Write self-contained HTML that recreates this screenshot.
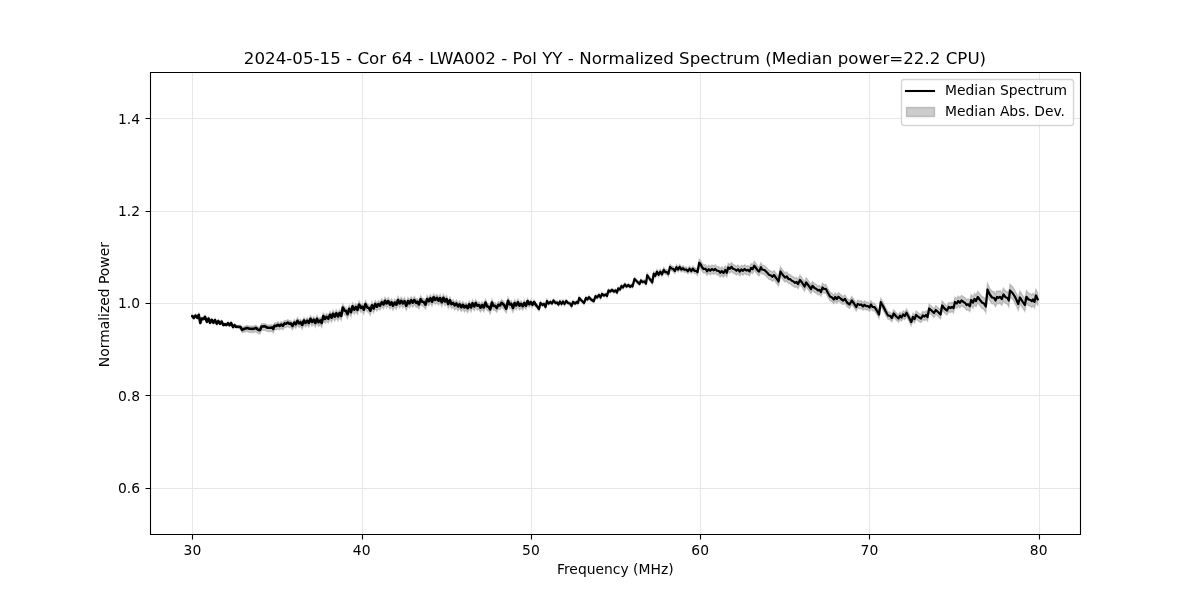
<!DOCTYPE html>
<html lang="en"><head><meta charset="utf-8"><title>Normalized Spectrum</title>
<style>html,body{margin:0;padding:0;background:#fff}body{width:1200px;height:600px;overflow:hidden}svg{display:block}text{font-family:"DejaVu Sans","Liberation Sans",sans-serif;fill:#000}.t10{font-size:13.889px}.t12{font-size:16.667px}</style></head><body>
<svg width="1200" height="600" viewBox="0 0 1200 600">
<rect width="1200" height="600" fill="#fff"/>
<defs><clipPath id="ax"><rect x="150" y="72" width="930" height="462"/></clipPath></defs>
<g clip-path="url(#ax)"><path d="M192.3 314.89 L193.75 316.78 L195.5 314.28 L197.25 316.52 L198.75 313.51 L200.25 321.76 L201.75 317.25 L203.5 317.74 L205 315.49 L206.9 320.48 L208.5 317.22 L210 321.47 L211.75 318.46 L213.5 321.45 L215 318.7 L216.75 322.44 L218.25 319.68 L220 322.43 L221.6 320.17 L223.25 323.66 L225 322.9 L226.5 323.65 L228 321.89 L229.5 323.89 L231.1 321.63 L233 325.62 L234.5 323.86 L236 325.36 L238 325.35 L240.5 325.16 L242.25 327.85 L244 326.59 L247 325.46 L249 325.99 L253.5 326.19 L255.75 325.18 L258.5 327.27 L260 327.36 L261.5 323.75 L265 323.64 L267.5 324.98 L271 324.97 L272 324.61 L273.25 326.21 L274.5 322.95 L276.5 323.09 L278 321.94 L279.5 323.18 L281.25 321.68 L282.75 323.07 L284.5 320.56 L286 320.91 L287.75 319.65 L289.25 320.89 L290.75 320.54 L292.5 323.03 L294.25 319.62 L295.75 321.37 L297.5 317.86 L299 320.6 L300.5 319.34 L302.25 322.07 L303.75 317.8 L304 317.55 L305.5 320.03 L307.25 317.75 L308.75 319.98 L310.5 315.71 L312 318.94 L313.75 316.67 L315.25 319.9 L317 315.62 L318.5 319.1 L320.25 317.33 L321.75 319.81 L323.25 312.79 L325 315.77 L326.5 313.5 L328.25 315.47 L330 311.45 L331.5 314.45 L333 310.45 L334.75 313.44 L336.25 309.94 L338 313.19 L339.5 309.69 L341.25 312.69 L342.75 304.19 L344.5 307.18 L346 307.68 L347.5 310.93 L349.25 305.43 L351 308.93 L352.5 302.93 L354.25 306.42 L355.75 303.67 L357.5 306.67 L359 301.17 L359.25 301.67 L361 304.67 L362.25 303.41 L363.75 306.41 L365.5 300.66 L367.25 304.16 L368.75 304.66 L370.25 307.41 L372 301.9 L373.6 305.15 L375.25 300.65 L376.9 303.4 L378.5 300.65 L380 302.39 L381.75 298.89 L383.5 301.14 L385 297.39 L386.6 300.14 L388.25 297.64 L390 301.38 L391.5 298.88 L393 302.38 L394.75 299.13 L396.4 301.38 L398 296.62 L399.6 300.12 L401.25 297.37 L402.9 300.12 L404.5 297.72 L406.25 302.37 L408 297.61 L409.5 300.11 L411.1 296.86 L412.75 299.36 L414.25 296.61 L416.25 299.6 L417.25 298.35 L418.9 301.1 L420.6 295.85 L422.25 298.36 L423.75 298.61 L425.5 301.37 L427.1 295.62 L428.75 297.88 L430.4 294.88 L432 298.39 L433.6 293.89 L435.25 296.65 L436.9 294.4 L438.5 297.41 L440.1 294.66 L441.75 298.92 L443.4 294.42 L445 298.18 L446.6 295.68 L448.25 300.68 L449.9 296.94 L451.5 300.94 L453.1 299.7 L454.75 302.2 L456.4 300.21 L458 303.21 L459.6 300.97 L461.25 303.97 L462.9 301.48 L464.5 304.23 L466.15 302.49 L467.75 304.99 L469.25 301 L471 304.25 L472.5 300.01 L474.25 303.26 L475.75 299.77 L477.25 302.52 L478.9 301.78 L480.5 304.53 L482.1 301.79 L483.75 304.29 L485.5 299.3 L487.1 303.05 L488.75 303.81 L490.25 306.31 L491.9 299.32 L493.5 302.82 L495 302.57 L496.75 304.83 L498.4 301.59 L500 302.34 L501.6 299.59 L504 301.85 L506.25 305.61 L508 297.61 L509.75 301.37 L511.25 300.62 L513 304.88 L514.6 299.88 L516.25 302.39 L517.9 299.14 L519.5 302.65 L521 300.75 L522.75 303.43 L524.25 300.32 L526 303.25 L527.6 298.66 L529.25 302.07 L530.75 299.94 L532.5 302.77 L534 300.1 L536 303.2 L539 307.35 L540.5 301.4 L542.5 303.4 L544 302.4 L545.5 305.41 L547 299.41 L548.5 301.91 L550.5 300.41 L552 301.91 L553.5 298.91 L555.5 301.42 L557 300.92 L558.5 302.92 L560 299.92 L561.5 302.42 L563 299.92 L564.5 302.42 L566.2 299.43 L568 301.43 L570 301.93 L571.5 304.43 L573 300.43 L575 301.94 L577 300.44 L578 301.44 L579.2 296.44 L581.5 298.94 L584 301.44 L586 296.45 L587.5 297.95 L589 295.65 L591 297.95 L593.8 299.65 L595.5 294.66 L597 295.96 L599 293.46 L600.5 295.96 L602 292.46 L604 293.96 L606 292.97 L607 294.47 L608.5 288.97 L610 289.97 L612 288.47 L614 289.97 L615.5 288.98 L617 290.98 L618.2 286.98 L620 287.98 L621.5 284.48 L623 285.98 L624.8 282.98 L626.5 284.99 L628.5 283.49 L630 285.29 L631.5 283.99 L632.5 284.99 L634.5 277.49 L637 280 L639.5 282.5 L641 278.95 L642.5 280.39 L644.5 279.8 L646 281.73 L647.25 273.42 L649.75 277.06 L652.25 280.2 L653.75 271.63 L655.25 273.56 L657 269.49 L658.6 272.41 L660.25 269.35 L662 271.84 L663.75 267.58 L665.25 269.57 L666.75 269.56 L668.4 271.55 L670 264.54 L671.75 266.03 L673.25 266.52 L674.9 268.51 L676.5 264.76 L678 267 L679.75 264.49 L681.25 266.98 L683 265.72 L684.5 267.21 L686.25 266.95 L687.9 268.69 L689.5 266.18 L691.25 268.42 L692.9 266.16 L694.5 268.15 L696 267.95 L697.5 269.15 L699.25 259.3 L701 261.2 L701.75 262.8 L703.5 264.99 L705.5 264.73 L707 267.22 L708.75 265.2 L710.25 266.69 L712 264.93 L713.5 266.17 L715.25 264.91 L717 266.65 L718.75 266.78 L720.25 268.62 L721.75 266.86 L723.5 268.85 L725.25 265.84 L726.75 268.58 L728.25 263.32 L729.9 264.56 L731.5 262.55 L733 264.54 L734.75 265.02 L736.4 266.51 L738 265 L739.75 267.34 L741.4 265.23 L743 266.47 L744.65 264.71 L746.25 266.19 L747.9 265.58 L749.5 267.07 L751.1 263.56 L752.5 264.9 L754.25 261.39 L756 263.63 L758 266.36 L759 267.21 L761 262.85 L762 265.09 L764.5 265.58 L767 268.06 L769 270.36 L771 271.05 L772.5 272.34 L774 270.53 L776.5 274.02 L778.5 277.01 L780.5 267 L782.5 269.99 L785 272.98 L786.8 271.97 L788.5 274.46 L790 274.45 L791.8 276.24 L793.5 276.93 L795 278.23 L796.5 277.42 L798 279.41 L800 275.4 L802 277.93 L804.5 281.96 L806.2 277.99 L808.5 281.02 L811 284.55 L812.5 281.38 L814.5 283.6 L816.5 284.63 L818 286.15 L819.5 285.47 L821 287.69 L822.5 283.21 L824 284.74 L825.8 284.56 L828 288.79 L830 292.32 L832 293.35 L833.8 295.37 L835.2 292.89 L836.8 294.92 L838.5 292.74 L840.5 294.47 L843 296.5 L845 295.03 L847 298.56 L849.5 300.59 L851.8 296.61 L854 299.62 L856.2 303.14 L857.8 300.15 L859.5 300.96 L861.2 300.67 L863 302.68 L864.5 300.99 L866.2 302.4 L867.8 302.21 L869.5 303.72 L871 300.73 L872.5 303.04 L874.5 303.45 L876.5 306.26 L879 310.77 L880.8 298.48 L883 302.3 L885.5 307.31 L888 311.83 L890 312.14 L891.8 314.35 L893.8 309.86 L896 312.58 L898.5 314.89 L900 312.2 L901.5 313.87 L903.2 310.84 L904.8 312.3 L906.5 309.07 L909 313.72 L911.2 318.18 L913 313.14 L914.5 315.11 L916.2 311.08 L918.5 313.03 L921 314.48 L922.8 311.44 L924.5 312.41 L926 310.88 L927.5 312.85 L929.2 304.32 L931.5 306.27 L934 308.72 L935.8 305.68 L938 307.64 L940.5 310.09 L942.2 301.06 L944.5 304.01 L947 305.96 L948.8 302.42 L950.5 303.38 L952 302.12 L953.5 303.46 L955 297.2 L956.8 298.63 L958.2 296.07 L959.8 297.81 L961.5 295.44 L963.5 296.86 L965.2 297.79 L966.5 299.74 L968 298.88 L969.8 300.81 L971.2 294.55 L973 296.98 L974.5 293.42 L976 295.36 L977.8 291.29 L980 294.2 L982 296.62 L984 297.54 L985.8 300.47 L987.5 283.4 L989.5 287.82 L992 291.3 L994 291.6 L995.5 294.3 L997 290.8 L998.5 291.6 L1000.2 290.6 L1001.8 292.8 L1003.5 288.3 L1005.5 291 L1007.5 291.8 L1008.8 294.3 L1010 284.3 L1012.5 286.8 L1014.5 289.8 L1016.5 293.8 L1018.2 297.8 L1020 291.3 L1022.5 295.3 L1024.8 298.8 L1026.5 290.6 L1028.5 293.3 L1030.5 293.8 L1031.8 295 L1033 293.3 L1034.5 295.6 L1036 289.3 L1037.8 293.3 L1037.8 305.7 L1036 301.7 L1034.5 308 L1033 305.7 L1031.8 307.4 L1030.5 306.2 L1028.5 305.7 L1026.5 303 L1024.8 311.2 L1022.5 307.7 L1020 303.7 L1018.2 310.2 L1016.5 306.2 L1014.5 302.2 L1012.5 299.2 L1010 296.7 L1008.8 306.7 L1007.5 304.2 L1005.5 303.4 L1003.5 300.7 L1001.8 305.2 L1000.2 303 L998.5 304 L997 303.2 L995.5 306.7 L994 304 L992 303.7 L989.5 300.18 L987.5 295.6 L985.8 312.53 L984 309.46 L982 308.38 L980 305.8 L977.8 302.71 L976 306.64 L974.5 304.58 L973 308.02 L971.2 305.45 L969.8 311.59 L968 309.52 L966.5 310.26 L965.2 308.21 L963.5 307.14 L961.5 305.56 L959.8 307.79 L958.2 305.93 L956.8 308.37 L955 306.8 L953.5 312.94 L952 311.48 L950.5 312.62 L948.8 311.58 L947 315.04 L944.5 312.99 L942.2 309.94 L940.5 318.91 L938 316.36 L935.8 314.32 L934 317.28 L931.5 314.73 L929.2 312.68 L927.5 321.15 L926 319.12 L924.5 320.59 L922.8 319.56 L921 322.52 L918.5 320.97 L916.2 318.92 L914.5 322.89 L913 320.86 L911.2 325.82 L909 321.28 L906.5 316.53 L904.8 319.7 L903.2 318.16 L901.5 321.13 L900 319.4 L898.5 322.11 L896 319.82 L893.8 317.14 L891.8 321.65 L890 319.46 L888 319.17 L885.5 314.69 L883 309.7 L880.8 305.92 L879 318.23 L876.5 313.74 L874.5 310.95 L872.5 310.56 L871 308.27 L869.5 311.28 L867.8 309.79 L866.2 310 L864.5 308.61 L863 310.32 L861.2 308.33 L859.5 308.64 L857.8 307.85 L856.2 310.86 L854 307.38 L851.8 304.39 L849.5 308.41 L847 306.44 L845 302.97 L843 304.5 L840.5 302.53 L838.5 300.86 L836.8 303.08 L835.2 301.11 L833.8 303.63 L832 301.65 L830 300.68 L828 297.21 L825.8 293.04 L824 293.26 L822.5 291.79 L821 296.31 L819.5 294.13 L818 294.85 L816.5 293.37 L814.5 292.4 L812.5 290.23 L811 293.45 L808.5 289.98 L806.2 287.01 L804.5 291.04 L802 287.07 L800 284.6 L798 288.59 L796.5 286.58 L795 287.38 L793.5 286.07 L791.8 285.36 L790 283.55 L788.5 283.54 L786.8 281.03 L785 282.02 L782.5 279.01 L780.5 276 L778.5 285.99 L776.5 282.98 L774 279.47 L772.5 281.26 L771 279.95 L769 279.25 L767 276.94 L764.5 274.42 L762 273.91 L761 271.65 L759 275.99 L758 275.14 L756 272.37 L754.25 270.11 L752.5 273.6 L751.1 272.24 L749.5 275.73 L747.9 274.22 L746.25 274.81 L744.65 273.29 L743 275.03 L741.4 273.77 L739.75 275.86 L738 273.5 L736.4 274.99 L734.75 273.48 L733 272.96 L731.5 270.95 L729.9 272.94 L728.25 271.68 L726.75 276.92 L725.25 274.16 L723.5 277.15 L721.75 275.14 L720.25 276.88 L718.75 275.02 L717 274.85 L715.25 273.09 L713.5 274.33 L712 273.07 L710.25 274.81 L708.75 273.3 L707 275.28 L705.5 272.77 L703.5 273.01 L701.75 270.7 L701 268.8 L699.25 266.2 L697.5 275.35 L696 273.55 L694.5 273.35 L692.9 271.34 L691.25 273.58 L689.5 271.32 L687.9 273.81 L686.25 272.05 L684.5 272.29 L683 270.78 L681.25 272.02 L679.75 269.51 L678 272 L676.5 269.74 L674.9 273.49 L673.25 271.48 L671.75 270.97 L670 269.46 L668.4 276.45 L666.75 274.44 L665.25 274.43 L663.75 272.42 L662 276.66 L660.25 274.15 L658.6 277.09 L657 274.01 L655.25 277.94 L653.75 275.87 L652.25 284.3 L649.75 280.94 L647.25 277.08 L646 285.27 L644.5 283.2 L642.5 283.61 L641 282.05 L639.5 285.5 L637 283 L634.5 280.51 L632.5 288.01 L631.5 287.01 L630 288.31 L628.5 286.51 L626.5 288.01 L624.8 286.02 L623 289.02 L621.5 287.52 L620 291.02 L618.2 290.02 L617 294.02 L615.5 292.02 L614 293.03 L612 291.53 L610 293.03 L608.5 292.03 L607 297.53 L606 296.03 L604 297.04 L602 295.54 L600.5 299.04 L599 296.54 L597 299.04 L595.5 297.74 L593.8 302.75 L591 301.05 L589 298.75 L587.5 301.05 L586 299.55 L584 304.56 L581.5 302.06 L579.2 299.56 L578 304.56 L577 303.56 L575 305.06 L573 303.57 L571.5 307.57 L570 305.07 L568 304.57 L566.2 302.57 L564.5 305.58 L563 303.08 L561.5 305.58 L560 303.08 L558.5 306.08 L557 304.08 L555.5 304.58 L553.5 302.09 L552 305.09 L550.5 303.59 L548.5 305.09 L547 302.59 L545.5 308.59 L544 305.6 L542.5 306.6 L540.5 304.6 L539 310.75 L536 307.2 L534 304.5 L532.5 307.48 L530.75 304.99 L529.25 307.43 L527.6 304.34 L526 309.25 L524.25 306.68 L522.75 310.07 L521 307.75 L519.5 309.85 L517.9 306.36 L516.25 309.61 L514.6 307.12 L513 312.12 L511.25 307.88 L509.75 308.63 L508 304.89 L506.25 312.89 L504 309.15 L501.6 306.91 L500 309.66 L498.4 308.91 L496.75 312.17 L495 309.93 L493.5 310.18 L491.9 306.68 L490.25 313.69 L488.75 311.19 L487.1 310.45 L485.5 306.7 L483.75 311.71 L482.1 309.21 L480.5 311.97 L478.9 309.22 L477.25 309.98 L475.75 307.23 L474.25 310.74 L472.5 307.49 L471 311.75 L469.25 308.5 L467.75 312.51 L466.15 310.01 L464.5 311.77 L462.9 309.02 L461.25 311.53 L459.6 308.53 L458 310.79 L456.4 307.79 L454.75 309.8 L453.1 307.3 L451.5 308.56 L449.9 304.56 L448.25 308.32 L446.6 303.32 L445 305.82 L443.4 302.08 L441.75 306.58 L440.1 302.34 L438.5 305.09 L436.9 302.1 L435.25 304.35 L433.6 301.61 L432 306.11 L430.4 302.62 L428.75 305.62 L427.1 303.38 L425.5 309.13 L423.75 306.39 L422.25 306.14 L420.6 303.65 L418.9 308.9 L417.25 306.15 L416.25 307.4 L414.25 304.39 L412.75 307.14 L411.1 304.64 L409.5 307.89 L408 305.39 L406.25 310.13 L404.5 305.48 L402.9 307.88 L401.25 305.13 L399.6 307.88 L398 304.38 L396.4 309.12 L394.75 306.87 L393 310.12 L391.5 306.62 L390 309.12 L388.25 305.36 L386.6 307.86 L385 305.11 L383.5 308.86 L381.75 306.61 L380 310.11 L378.5 308.35 L376.9 311.1 L375.25 308.35 L373.6 312.85 L372 309.6 L370.25 315.09 L368.75 312.34 L367.25 311.84 L365.5 308.34 L363.75 314.09 L362.25 311.09 L361 312.33 L359.25 309.33 L359 308.83 L357.5 314.33 L355.75 311.33 L354.25 314.08 L352.5 310.57 L351 316.57 L349.25 313.07 L347.5 318.57 L346 315.32 L344.5 314.82 L342.75 311.81 L341.25 320.31 L339.5 317.31 L338 320.81 L336.25 317.56 L334.75 321.06 L333 318.05 L331.5 322.05 L330 319.05 L328.25 323.03 L326.5 321 L325 323.23 L323.25 320.21 L321.75 327.19 L320.25 324.67 L318.5 326.4 L317 322.88 L315.25 327.1 L313.75 323.83 L312 326.06 L310.5 322.79 L308.75 327.02 L307.25 324.75 L305.5 326.97 L304 324.45 L303.75 324.7 L302.25 328.93 L300.5 326.16 L299 327.4 L297.5 324.64 L295.75 328.13 L294.25 326.38 L292.5 329.77 L290.75 327.26 L289.25 327.61 L287.75 326.35 L286 327.59 L284.5 327.24 L282.75 329.73 L281.25 328.32 L279.5 329.82 L278 328.56 L276.5 329.71 L274.5 329.55 L273.25 332.79 L272 331.19 L271 331.53 L267.5 331.52 L265 330.16 L261.5 330.25 L260 333.84 L258.5 333.73 L255.75 331.62 L253.5 332.61 L249 332.21 L247 331.34 L244 331.96 L242.25 332.69 L240.5 329.16 L238 328.15 L236 328.14 L234.5 326.64 L233 328.38 L231.1 324.37 L229.5 326.61 L228 324.61 L226.5 326.35 L225 325.6 L223.25 326.34 L221.6 322.83 L220 325.07 L218.25 322.32 L216.75 325.06 L215 321.3 L213.5 324.05 L211.75 321.04 L210 324.03 L208.5 319.78 L206.9 323.02 L205 318.01 L203.5 320.26 L201.75 319.75 L200.25 324.24 L198.75 315.99 L197.25 318.98 L195.5 316.72 L193.75 319.22 L192.3 317.31Z" fill="#808080" fill-opacity="0.4" stroke="#808080" stroke-opacity="0.4" stroke-width="1.389" stroke-linejoin="miter"/></g>
<path d="M192.5 72V534M362.5 72V534M531.5 72V534M700.5 72V534M869.5 72V534M1039.5 72V534M150 118.5H1080M150 211.5H1080M150 303.5H1080M150 395.5H1080M150 488.5H1080" stroke="#b0b0b0" stroke-opacity="0.3" stroke-width="1.111" fill="none"/>
<path d="M191.94 534.5h1.111v5h-1.111zM361.94 534.5h1.111v5h-1.111zM530.94 534.5h1.111v5h-1.111zM699.94 534.5h1.111v5h-1.111zM868.94 534.5h1.111v5h-1.111zM1038.94 534.5h1.111v5h-1.111zM145.5 117.94h5v1.111h-5zM145.5 210.94h5v1.111h-5zM145.5 302.94h5v1.111h-5zM145.5 394.94h5v1.111h-5zM145.5 487.94h5v1.111h-5z" fill="#000"/>
<g clip-path="url(#ax)" fill="none" stroke="#000" stroke-linejoin="round"><path d="M192.3 316.1 L193.75 318 L195.5 315.5 L197.25 317.75 L198.75 314.75 L200.25 323 L201.75 318.5 L203.5 319 L205 316.75 L206.9 321.75 L208.5 318.5 L210 322.75 L211.75 319.75 L213.5 322.75 L215 320 L216.75 323.75 L218.25 321 L220 323.75 L221.6 321.5 L223.25 325 L225 324.25 L226.5 325 L228 323.25 L229.5 325.25 L231.1 323 L233 327 L234.5 325.25 L236 326.75 L238 326.75 L240.5 327 L242.25 330 L244 328.9 L247 327.9 L249 328.6 L253.5 328.9 L255.75 327.9 L258.5 330 L260 330.1 L261.5 326.5 L265 326.4 L267.5 327.75 L271 327.75 L272 327.4 L273.25 329 L274.5 325.75 L276.5 325.9 L278 324.75 L279.5 326 L281.25 324.5 L282.75 325.9 L284.5 323.4 L286 323.75 L287.75 322.5 L289.25 323.75 L290.75 323.4 L292.5 325.9 L294.25 322.5 L295.75 324.25 L297.5 320.75 L299 323.5 L300.5 322.25 L302.25 325 L303.75 320.75 L304 320.5 L305.5 323 L307.25 320.75 L308.75 323 L310.5 318.75 L312 322 L313.75 319.75 L315.25 323 L317 318.75 L318.5 322.25 L320.25 320.5 L321.75 323 L323.25 316 L325 319 L326.5 316.75 L328.25 318.75 L330 314.75 L331.5 317.75 L333 313.75 L334.75 316.75 L336.25 313.25 L338 316.5 L339.5 313 L341.25 316 L342.75 307.5 L344.5 310.5 L346 311 L347.5 314.25 L349.25 308.75 L351 312.25 L352.5 306.25 L354.25 309.75 L355.75 307 L357.5 310 L359 304.5 L359.25 305 L361 308 L362.25 306.75 L363.75 309.75 L365.5 304 L367.25 307.5 L368.75 308 L370.25 310.75 L372 305.25 L373.6 308.5 L375.25 304 L376.9 306.75 L378.5 304 L380 305.75 L381.75 302.25 L383.5 304.5 L385 300.75 L386.6 303.5 L388.25 301 L390 304.75 L391.5 302.25 L393 305.75 L394.75 302.5 L396.4 304.75 L398 300 L399.6 303.5 L401.25 300.75 L402.9 303.5 L404.5 301.1 L406.25 305.75 L408 301 L409.5 303.5 L411.1 300.25 L412.75 302.75 L414.25 300 L416.25 303 L417.25 301.75 L418.9 304.5 L420.6 299.25 L422.25 301.75 L423.75 302 L425.5 304.75 L427.1 299 L428.75 301.25 L430.4 298.25 L432 301.75 L433.6 297.25 L435.25 300 L436.9 297.75 L438.5 300.75 L440.1 298 L441.75 302.25 L443.4 297.75 L445 301.5 L446.6 299 L448.25 304 L449.9 300.25 L451.5 304.25 L453.1 303 L454.75 305.5 L456.4 303.5 L458 306.5 L459.6 304.25 L461.25 307.25 L462.9 304.75 L464.5 307.5 L466.15 305.75 L467.75 308.25 L469.25 304.25 L471 307.5 L472.5 303.25 L474.25 306.5 L475.75 303 L477.25 305.75 L478.9 305 L480.5 307.75 L482.1 305 L483.75 307.5 L485.5 302.5 L487.1 306.25 L488.75 307 L490.25 309.5 L491.9 302.5 L493.5 306 L495 305.75 L496.75 308 L498.4 304.75 L500 305.5 L501.6 302.75 L504 305 L506.25 308.75 L508 300.75 L509.75 304.5 L511.25 303.75 L513 308 L514.6 303 L516.25 305.5 L517.9 302.25 L519.5 305.75 L521 303.75 L522.75 306.25 L524.25 303 L526 305.75 L527.6 301 L529.25 304.25 L530.75 302 L532.5 304.75 L534 302 L536 305" stroke-width="2.6" stroke-linecap="round"/><path d="M536 305 L539 309 L540.5 303 L542.5 305 L544 304 L545.5 307 L547 301 L548.5 303.5 L550.5 302 L552 303.5 L553.5 300.5 L555.5 303 L557 302.5 L558.5 304.5 L560 301.5 L561.5 304 L563 301.5 L564.5 304 L566.2 301 L568 303 L570 303.5 L571.5 306 L573 302 L575 303.5 L577 302 L578 303 L579.2 298 L581.5 300.5 L584 303 L586 298 L587.5 299.5 L589 297.2 L591 299.5 L593.8 301.2 L595.5 296.2 L597 297.5 L599 295 L600.5 297.5 L602 294 L604 295.5 L606 294.5 L607 296 L608.5 290.5 L610 291.5 L612 290 L614 291.5 L615.5 290.5 L617 292.5 L618.2 288.5 L620 289.5 L621.5 286 L623 287.5 L624.8 284.5 L626.5 286.5 L628.5 285 L630 286.8 L631.5 285.5 L632.5 286.5 L634.5 279 L637 281.5 L639.5 284 L641 280.5 L642.5 282 L644.5 281.5 L646 283.5 L647.25 275.25 L649.75 279 L652.25 282.25 L653.75 273.75 L655.25 275.75 L657 271.75 L658.6 274.75 L660.25 271.75 L662 274.25 L663.75 270 L665.25 272 L666.75 272 L668.4 274 L670 267 L671.75 268.5 L673.25 269 L674.9 271 L676.5 267.25 L678 269.5 L679.75 267 L681.25 269.5 L683 268.25 L684.5 269.75 L686.25 269.5 L687.9 271.25 L689.5 268.75 L691.25 271 L692.9 268.75 L694.5 270.75 L696 270.75 L697.5 272.25 L699.25 262.75 L701 265 L701.75 266.75 L703.5 269 L705.5 268.75 L707 271.25 L708.75 269.25 L710.25 270.75 L712 269 L713.5 270.25 L715.25 269 L717 270.75 L718.75 270.9 L720.25 272.75 L721.75 271 L723.5 273 L725.25 270 L726.75 272.75 L728.25 267.5 L729.9 268.75 L731.5 266.75 L733 268.75 L734.75 269.25 L736.4 270.75 L738 269.25 L739.75 271.6 L741.4 269.5 L743 270.75 L744.65 269 L746.25 270.5 L747.9 269.9 L749.5 271.4 L751.1 267.9 L752.5 269.25 L754.25 265.75 L756 268 L758 270.75 L759 271.6 L761 267.25 L762 269.5 L764.5 270 L767 272.5 L769 274.8 L771 275.5 L772.5 276.8 L774 275 L776.5 278.5 L778.5 281.5 L780.5 271.5 L782.5 274.5 L785 277.5 L786.8 276.5 L788.5 279 L790 279 L791.8 280.8 L793.5 281.5 L795 282.8 L796.5 282 L798 284 L800 280 L802 282.5 L804.5 286.5 L806.2 282.5 L808.5 285.5 L811 289 L812.5 285.8 L814.5 288 L816.5 289 L818 290.5 L819.5 289.8 L821 292 L822.5 287.5 L824 289 L825.8 288.8 L828 293 L830 296.5 L832 297.5 L833.8 299.5 L835.2 297 L836.8 299 L838.5 296.8 L840.5 298.5 L843 300.5 L845 299 L847 302.5 L849.5 304.5 L851.8 300.5 L854 303.5 L856.2 307 L857.8 304 L859.5 304.8 L861.2 304.5 L863 306.5 L864.5 304.8 L866.2 306.2 L867.8 306 L869.5 307.5 L871 304.5 L872.5 306.8 L874.5 307.2 L876.5 310 L879 314.5 L880.8 302.2 L883 306 L885.5 311 L888 315.5 L890 315.8 L891.8 318 L893.8 313.5 L896 316.2 L898.5 318.5 L900 315.8 L901.5 317.5 L903.2 314.5 L904.8 316 L906.5 312.8 L909 317.5 L911.2 322 L913 317 L914.5 319 L916.2 315 L918.5 317 L921 318.5 L922.8 315.5 L924.5 316.5 L926 315 L927.5 317 L929.2 308.5 L931.5 310.5 L934 313 L935.8 310 L938 312 L940.5 314.5 L942.2 305.5 L944.5 308.5 L947 310.5 L948.8 307 L950.5 308 L952 306.8 L953.5 308.2 L955 302 L956.8 303.5 L958.2 301 L959.8 302.8 L961.5 300.5 L963.5 302 L965.2 303 L966.5 305 L968 304.2 L969.8 306.2 L971.2 300 L973 302.5 L974.5 299 L976 301 L977.8 297 L980 300 L982 302.5 L984 303.5 L985.8 306.5 L987.5 289.5 L989.5 294 L992 297.5 L994 297.8 L995.5 300.5 L997 297 L998.5 297.8 L1000.2 296.8 L1001.8 299 L1003.5 294.5 L1005.5 297.2 L1007.5 298 L1008.8 300.5 L1010 290.5 L1012.5 293 L1014.5 296 L1016.5 300 L1018.2 304 L1020 297.5 L1022.5 301.5 L1024.8 305 L1026.5 296.8 L1028.5 299.5 L1030.5 300 L1031.8 301.2 L1033 299.5 L1034.5 301.8 L1036 295.5 L1037.8 299.5" stroke-width="2.25" stroke-linecap="round"/></g>
<path d="M149.944 71.944h931.111v1.111h-931.111zM149.944 533.944h931.111v1.111h-931.111zM149.944 71.944h1.111v463.111h-1.111zM1079.944 71.944h1.111v463.111h-1.111z" fill="#000"/>
<text class="t10" x="192.4" y="555.28" text-anchor="middle">30</text>
<text class="t10" x="361.65" y="555.28" text-anchor="middle">40</text>
<text class="t10" x="530.9" y="555.28" text-anchor="middle">50</text>
<text class="t10" x="700.15" y="555.28" text-anchor="middle">60</text>
<text class="t10" x="869.4" y="555.28" text-anchor="middle">70</text>
<text class="t10" x="1038.65" y="555.28" text-anchor="middle">80</text>
<text class="t10" x="140" y="124.38" text-anchor="end">1.4</text>
<text class="t10" x="140" y="215.8" text-anchor="end">1.2</text>
<text class="t10" x="140" y="308.2" text-anchor="end">1.0</text>
<text class="t10" x="140" y="400.6" text-anchor="end">0.8</text>
<text class="t10" x="140" y="493" text-anchor="end">0.6</text>
<text class="t10" x="615.3" y="574.3" text-anchor="middle">Frequency (MHz)</text>
<text class="t10" x="108.75" y="304.6" text-anchor="middle" transform="rotate(-90 108.75 304.6)">Normalized Power</text>
<text class="t12" x="615" y="63.85" text-anchor="middle" letter-spacing="0.0145">2024-05-15 - Cor 64 - LWA002 - Pol YY - Normalized Spectrum (Median power=22.2 CPU)</text>
<rect x="901.5" y="79.5" width="172" height="46" rx="2.78" ry="2.78" fill="#fff" fill-opacity="0.8" stroke="#ccc" stroke-opacity="0.8" stroke-width="1.389"/>
<path d="M906 91H934" stroke="#000" stroke-width="2.083" stroke-linecap="square" fill="none"/>
<rect x="906.5" y="107.5" width="28" height="9" fill="#808080" fill-opacity="0.4" stroke="#808080" stroke-opacity="0.4" stroke-width="1.389"/>
<text class="t10" x="945" y="95.3">Median Spectrum</text>
<text class="t10" x="945" y="116.3">Median Abs. Dev.</text>
</svg></body></html>
